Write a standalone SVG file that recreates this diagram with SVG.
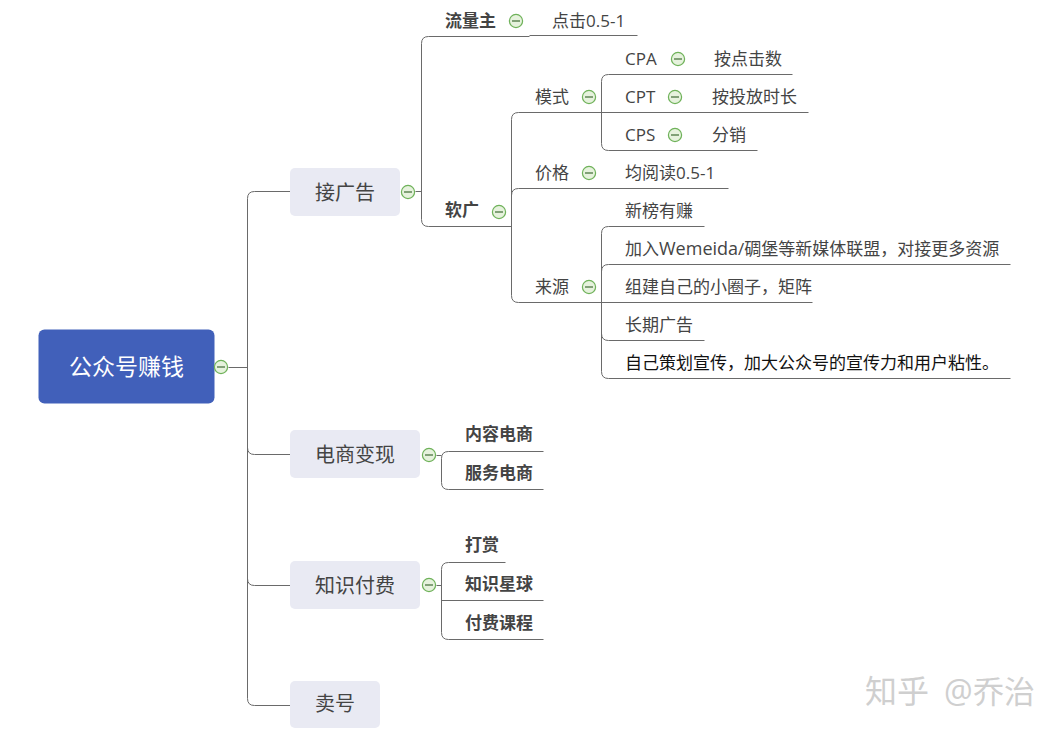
<svg xmlns="http://www.w3.org/2000/svg" width="1061" height="736" viewBox="0 0 1061 736">
<style>
text{font-family:"Open Sans","Noto Sans CJK SC",sans-serif;fill:#444}
.c path{fill:none;stroke:#6a6a6a;stroke-width:1}
.t{font-size:17px}
.b{font-size:17px;font-weight:700}
.m{font-size:20px}
.n{fill:#e9eaf3}
.dark{fill:#111}
</style>
<defs>
<g id="minus"><circle r="6.6" fill="#e6f2dd" stroke="#6fb25a" stroke-width="1.2"/><path d="M-4 0H4" stroke="#3f6b35" stroke-width="1.2"/></g>
</defs>
<rect width="1061" height="736" fill="#fff"/>
<g class="c" transform="translate(.5 .5)">
<path d="M228 367H247"/>
<path d="M290 191H254Q247 191 247 198V698Q247 705 254 705H290"/>
<path d="M247 447Q247 454 254 454H290M247 578Q247 585 254 585H290"/>
<path d="M415 191H421"/>
<path d="M529 36H428Q421 36 421 43V219Q421 226 428 226H511"/>
<path d="M529 35H637"/>
<path d="M601 112H518Q511 112 511 119V295Q511 302 518 302H601"/>
<path d="M511 195Q511 188 518 188H728"/>
<path d="M792 74H608Q601 74 601 81V143Q601 150 608 150H757"/>
<path d="M601 112H808"/>
<path d="M704 226H608Q601 226 601 233V371Q601 378 608 378H1010"/>
<path d="M601 271Q601 264 608 264H1010"/>
<path d="M601 302H812"/>
<path d="M601 333Q601 340 608 340H704"/>
<path d="M436 455H441"/>
<path d="M543 451H448Q441 451 441 458V482Q441 489 448 489H543"/>
<path d="M436 585H441"/>
<path d="M505 562H448Q441 562 441 569V632Q441 639 448 639H543"/>
<path d="M441 600H543"/>
</g>
<g id="root"><rect x="38.5" y="329.5" width="176" height="74" rx="6" fill="#4160ba"/><text x="69" y="375" font-size="23" style="fill:#fff">公众号赚钱</text><use href="#minus" x="221" y="367"/></g>
<g id="n-ad"><rect class="n" x="290" y="168" width="110" height="48" rx="5"/><text class="m" x="315" y="200">接广告</text><use href="#minus" x="408" y="192"/></g>
<g id="n-ecom"><rect class="n" x="290" y="430" width="130" height="48" rx="5"/><text class="m" x="315" y="462">电商变现</text><use href="#minus" x="429" y="455"/></g>
<g id="n-know"><rect class="n" x="290" y="561" width="130" height="48" rx="5"/><text class="m" x="315" y="593">知识付费</text><use href="#minus" x="429" y="585"/></g>
<g id="n-sell"><rect class="n" x="290" y="681" width="90" height="47" rx="5"/><text class="m" x="315" y="711">卖号</text></g>
<g id="n-traffic"><text class="b" x="445" y="27">流量主</text><use href="#minus" x="516" y="21"/></g>
<g id="n-traffic-1"><text class="t" x="552" y="27">点击0.5-1</text></g>
<g id="n-soft"><text class="b" x="445" y="216">软广</text><use href="#minus" x="499" y="212"/></g>
<g id="n-mode"><text class="t" x="535" y="103">模式</text><use href="#minus" x="589" y="97"/></g>
<g id="n-price"><text class="t" x="535" y="179">价格</text><use href="#minus" x="589" y="173"/></g>
<g id="n-source"><text class="t" x="535" y="293">来源</text><use href="#minus" x="589" y="287"/></g>
<g id="n-cpa"><text class="t" x="625" y="65">CPA</text><use href="#minus" x="678" y="59"/><text class="t" x="714" y="65">按点击数</text></g>
<g id="n-cpt"><text class="t" x="625" y="103">CPT</text><use href="#minus" x="675" y="97"/><text class="t" x="712" y="103">按投放时长</text></g>
<g id="n-cps"><text class="t" x="625" y="141">CPS</text><use href="#minus" x="675" y="135"/><text class="t" x="712" y="141">分销</text></g>
<g id="n-price-1"><text class="t" x="625" y="179">均阅读0.5-1</text></g>
<g id="n-s1"><text class="t" x="625" y="217">新榜有赚</text></g>
<g id="n-s2"><text class="t" x="625" y="255">加入<tspan font-size="18">Wemeida</tspan>/碉堡等新媒体联盟，对接更多资源</text></g>
<g id="n-s3"><text class="t" x="625" y="293">组建自己的小圈子，矩阵</text></g>
<g id="n-s4"><text class="t" x="625" y="331">长期广告</text></g>
<g id="n-s5"><text class="t dark" x="625" y="369">自己策划宣传，加大公众号的宣传力和用户粘性。</text></g>
<g id="n-e1"><text class="b" x="465" y="440">内容电商</text></g>
<g id="n-e2"><text class="b" x="465" y="479">服务电商</text></g>
<g id="n-k1"><text class="b" x="465" y="551">打赏</text></g>
<g id="n-k2"><text class="b" x="465" y="590">知识星球</text></g>
<g id="n-k3"><text class="b" x="465" y="629">付费课程</text></g>
<text y="703" font-size="32" style="fill:#cfcfcf"><tspan x="865">知乎</tspan><tspan x="944">@</tspan><tspan x="973" font-size="31">乔治</tspan></text>
</svg>
